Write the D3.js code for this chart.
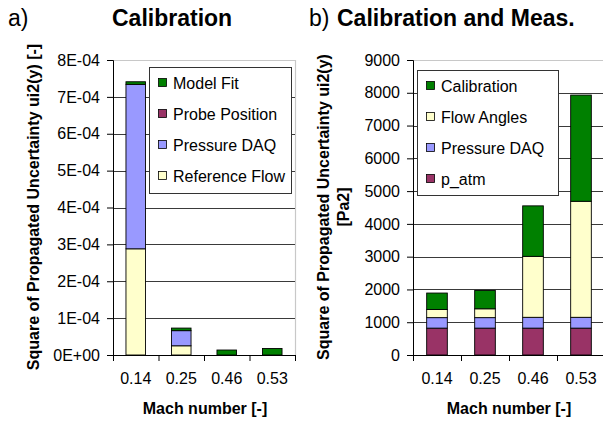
<!DOCTYPE html>
<html>
<head>
<meta charset="utf-8">
<script src="https://cdn.jsdelivr.net/npm/d3@7"></script>
<style>
  body { margin: 0; background: #fff; }
  svg { font-family: "Liberation Sans", Arial, sans-serif; }
  .tick text { font-size: 16px; fill: #000; }
  .label { font-size: 16px; font-weight: bold; }
  .legend-text { font-size: 16px; }
</style>
</head>
<body>
<div id="chart"></div>
<script>
// categories (Mach number)
const machLabels = ['0.14', '0.25', '0.46', '0.53'];

// a) Calibration, square of propagated uncertainty [-]
const calKeys = ['Reference Flow', 'Pressure DAQ', 'Probe Position', 'Model Fit'];
const refFlow = [2.88e-4, 0.25e-4, 0, 0];
const calPressureDAQ = [4.46e-4, 0.41e-4, 0, 0];
const probePosition = [0, 0, 0, 0];
const modelFit = [0.07e-4, 0.07e-4, 0.135e-4, 0.175e-4];
const calTicks = [0, 1e-4, 2e-4, 3e-4, 4e-4, 5e-4, 6e-4, 7e-4, 8e-4];

// b) Calibration and measurement [Pa2]
const measKeys = ['p_atm', 'Pressure DAQ', 'Flow Angles', 'Calibration'];
const pAtm = [820, 820, 820, 820];
const measPressureDAQ = [320, 320, 330, 330];
const flowAngles = [250, 270, 1860, 3540];
const calibration = [500, 560, 1540, 3240];
const measTicks = [0, 1000, 2000, 3000, 4000, 5000, 6000, 7000, 8000, 9000];

const colors = {
  'Model Fit': '#008000',
  'Calibration': '#008000',
  'Probe Position': '#993366',
  'p_atm': '#993366',
  'Pressure DAQ': '#9999ff',
  'Reference Flow': '#ffffcc',
  'Flow Angles': '#ffffcc'
};

const w = 603;
const h = 421;

const svg = d3.select('#chart')
              .append('svg')
              .attr('width', w)
              .attr('height', h);

//Builds rows {mach, key1, key2...} from the series arrays
function makeRows(keys, series) {
  return machLabels.map((m, i) => {
    const row = { mach: m };
    keys.forEach((k, j) => { row[k] = series[j][i]; });
    return row;
  });
}

function drawPanel(p) {
  const top = 60, bottom = 355;

  const xScale = d3.scaleBand()
                   .domain(machLabels)
                   .range([p.left, p.right])
                   .paddingInner(0.57)
                   .paddingOuter(0.285);

  const yScale = d3.scaleLinear()
                   .domain([0, p.max])
                   .range([bottom, top]);

  const g = svg.append('g');

  //Plot border (top, right)
  g.append('path')
   .attr('d', `M${p.left},${top + 0.5}H${p.right + 0.5}V${bottom}`)
   .attr('fill', 'none')
   .attr('stroke', '#c8c8c8')
   .attr('stroke-width', 1.2);

  //Gridlines
  g.selectAll('.grid')
   .data(p.ticks.filter(t => t > 0 && t < p.max))
   .enter()
   .append('line')
   .attr('class', 'grid')
   .attr('x1', p.left)
   .attr('x2', p.right)
   .attr('y1', d => Math.round(yScale(d)) + 0.5)
   .attr('y2', d => Math.round(yScale(d)) + 0.5)
   .attr('stroke', '#3a3a3a')
   .attr('stroke-width', 1);

  //Stacked bars
  const stack = d3.stack().keys(p.keys);
  const layers = stack(makeRows(p.keys, p.series));

  g.selectAll('.layer')
   .data(layers)
   .enter()
   .append('g')
   .attr('fill', d => colors[d.key])
   .selectAll('rect')
   .data(d => d.filter(v => v[1] - v[0] > 0))
   .enter()
   .append('rect')
   .attr('x', d => xScale(d.data.mach))
   .attr('y', d => yScale(d[1]))
   .attr('width', xScale.bandwidth())
   .attr('height', d => yScale(d[0]) - yScale(d[1]))
   .attr('stroke', '#000')
   .attr('stroke-width', 0.9);

  //Axes
  const yAxis = d3.axisLeft(yScale)
                  .tickValues(p.ticks)
                  .tickFormat(p.format)
                  .tickSizeOuter(0)
                  .tickSize(6)
                  .tickPadding(7);

  g.append('g')
   .attr('transform', `translate(${p.left}, 0)`)
   .call(yAxis);

  const edgeScale = d3.scaleLinear().domain([0, 4]).range([p.left, p.right]);
  g.append('g')
   .attr('transform', `translate(0, ${bottom})`)
   .call(d3.axisBottom(edgeScale).tickValues([0, 1, 2, 3, 4]).tickFormat('').tickSize(6).tickSizeOuter(0));

  g.append('g')
   .attr('transform', `translate(0, ${bottom})`)
   .call(d3.axisBottom(xScale).tickSize(0).tickPadding(18))
   .call(a => a.select('.domain').remove());

  //Axis labels
  g.append('text')
   .attr('class', 'label')
   .attr('x', p.xLabelX)
   .attr('y', 414)
   .attr('text-anchor', 'middle')
   .text('Mach number [-]');

  p.yLabel.forEach((line, i) => {
    g.append('text')
     .attr('class', 'label')
     .attr('transform', `translate(${p.yLabelX + i * 20}, 207) rotate(-90)`)
     .attr('text-anchor', 'middle')
     .text(line);
  });

  //Legend
  g.append('rect')
   .attr('x', p.legend.x + 0.5)
   .attr('y', p.legend.y + 0.5)
   .attr('width', p.legend.w)
   .attr('height', p.legend.h)
   .attr('fill', '#fff')
   .attr('stroke', '#333');

  const items = p.keys.slice().reverse();
  const item = g.selectAll('.legend-item')
                .data(items)
                .enter()
                .append('g')
                .attr('transform', (d, i) => `translate(${p.legend.x + 9}, ${p.legend.y + 16 + i * 31})`);

  item.append('rect')
      .attr('x', 0.5)
      .attr('y', -4.5)
      .attr('width', 8)
      .attr('height', 8)
      .attr('fill', d => colors[d])
      .attr('stroke', '#000')
      .attr('stroke-width', 0.8);

  item.append('text')
      .attr('class', 'legend-text')
      .attr('x', 15)
      .attr('y', 6)
      .text(d => d);
}

drawPanel({
  left: 113, right: 295, max: 8e-4, ticks: calTicks,
  keys: calKeys,
  series: [refFlow, calPressureDAQ, probePosition, modelFit],
  format: d => d === 0 ? '0E+00' : `${Math.round(d * 1e4)}E-04`,
  xLabelX: 205,
  yLabel: ['Square of Propagated Uncertainty ui2(y) [-]'],
  yLabelX: 39,
  legend: { x: 149, y: 67, w: 142, h: 126 }
});

drawPanel({
  left: 413, right: 605, max: 9000, ticks: measTicks,
  keys: measKeys,
  series: [pAtm, measPressureDAQ, flowAngles, calibration],
  format: d3.format('d'),
  xLabelX: 509,
  yLabel: ['Square of Propagated Uncertainty ui2(y)', '[Pa2]'],
  yLabelX: 329,
  legend: { x: 417, y: 70, w: 141, h: 125 }
});

//Titles
svg.append('text')
   .attr('x', 8)
   .attr('y', 26)
   .style('font-size', '23px')
   .text('a)');

svg.append('text')
   .attr('x', 112)
   .attr('y', 26)
   .style('font-size', '23px')
   .style('font-weight', 'bold')
   .text('Calibration');

svg.append('text')
   .attr('x', 309)
   .attr('y', 26)
   .style('font-size', '23px')
   .text('b)');

svg.append('text')
   .attr('x', 337)
   .attr('y', 26)
   .style('font-size', '23px')
   .style('font-weight', 'bold')
   .text('Calibration and Meas.');
</script>
</body>
</html>
